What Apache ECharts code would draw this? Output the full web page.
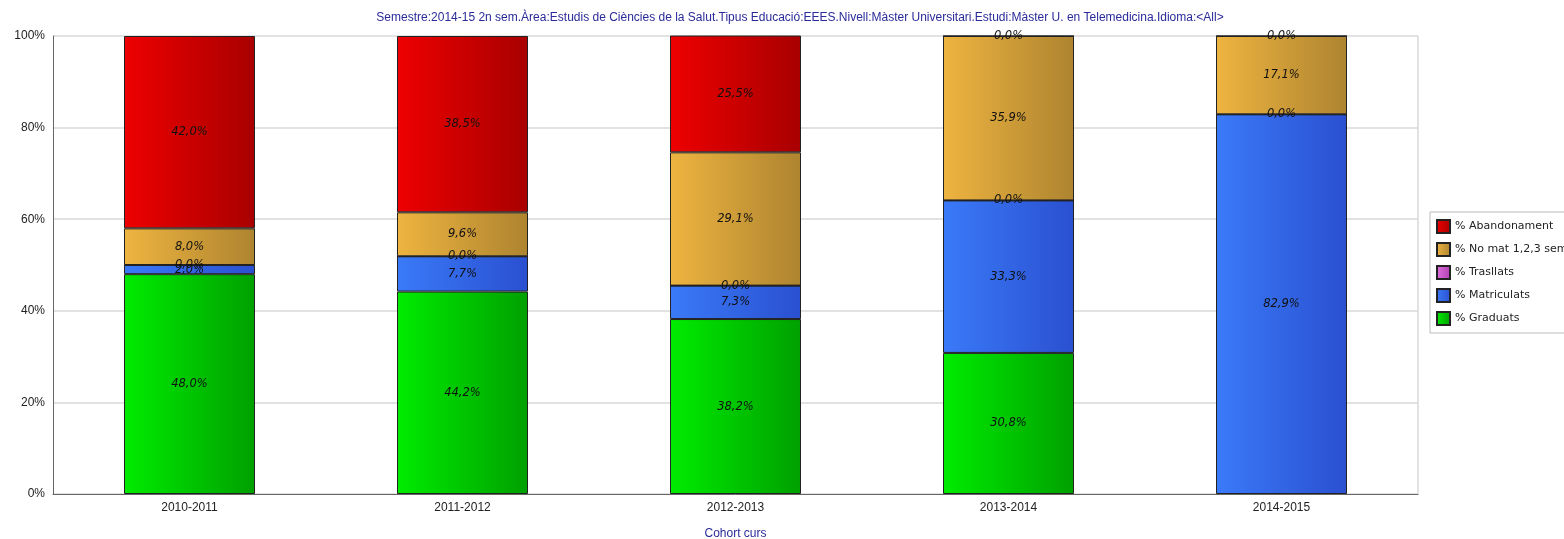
<!DOCTYPE html>
<html>
<head>
<meta charset="utf-8">
<script src="https://cdn.jsdelivr.net/npm/echarts@6/dist/echarts.min.js"></script>
<style>
    html, body { margin: 0; padding: 0; background: #fff; }
    #chart { width: 1564px; height: 539px; }
</style>
</head>
<body>
<div id="chart"></div>
<script>
    var categories = ['2010-2011', '2011-2012', '2012-2013', '2013-2014', '2014-2015'];
    var graduats = [48.0, 44.2, 38.2, 30.8, null];
    var matriculats = [2.0, 7.7, 7.3, 33.3, 82.9];
    var trasllats = [0.0, 0.0, 0.0, 0.0, 0.0];
    var noMat = [8.0, 9.6, 29.1, 35.9, 17.1];
    var abandonament = [42.0, 38.5, 25.5, 0.0, 0.0];
    var yTicks = ['0%', '20%', '40%', '60%', '80%', '100%'];

    var myChart = echarts.init(document.getElementById('chart'));

    function grad(a, b) {
        return new echarts.graphic.LinearGradient(0, 0, 1, 0, [
            {offset: 0, color: a},
            {offset: 1, color: b}
        ]);
    }

    function serie(name, data, c1, c2) {
        return {
            name: name,
            type: 'bar',
            stack: 'total',
            barWidth: 131,
            data: data,
            itemStyle: {
                color: grad(c1, c2),
                borderColor: '#222',
                borderWidth: 1
            },
            label: {
                show: true,
                position: 'inside',
                color: '#111',
                fontSize: 11.5,
                fontStyle: 'italic',
                fontFamily: 'DejaVu Sans',
                formatter: function (p) {
                    if (p.value == null) return '';
                    return p.value.toFixed(1).replace('.', ',') + '%';
                }
            }
        };
    }

    var option = {
        animation: false,
        title: {
            text: 'Semestre:2014-15 2n sem.Àrea:Estudis de Ciències de la Salut.Tipus Educació:EEES.Nivell:Màster Universitari.Estudi:Màster U. en Telemedicina.Idioma:<All>',
            left: 795,
            textAlign: 'center',
            top: 7,
            textStyle: {
                color: '#2a2a9a',
                fontSize: 12,
                fontWeight: 'normal',
                fontFamily: 'Liberation Sans'
            }
        },
        grid: {
            left: 53,
            right: 146,
            top: 36,
            bottom: 45,
            outerBoundsMode: 'none'
        },
        legend: {
            orient: 'vertical',
            left: 1430,
            top: 212,
            padding: [7, 100, 7, 6],
            itemGap: 8,
            itemWidth: 13,
            itemHeight: 13,
            icon: 'rect',
            borderColor: '#bbb',
            borderWidth: 1,
            backgroundColor: '#fff',
            textStyle: {
                color: '#222',
                fontSize: 11,
                fontFamily: 'DejaVu Sans'
            },
            data: ['% Abandonament', '% No mat 1,2,3 semestres', '% Trasllats', '% Matriculats', '% Graduats']
        },
        xAxis: {
            type: 'category',
            data: categories,
            name: 'Cohort curs',
            nameLocation: 'middle',
            nameGap: 34,
            nameTextStyle: {
                color: '#2a2a9a',
                fontSize: 12,
                fontFamily: 'Liberation Sans'
            },
            axisLine: {lineStyle: {color: '#666'}},
            axisTick: {show: false},
            axisLabel: {
                color: '#222',
                fontSize: 12,
                fontFamily: 'Liberation Sans',
                margin: 8
            }
        },
        yAxis: {
            type: 'value',
            min: 0,
            max: 100,
            interval: 20,
            axisLine: {show: true, lineStyle: {color: '#666'}},
            axisTick: {show: false},
            axisLabel: {
                color: '#222',
                fontSize: 12,
                fontFamily: 'Liberation Sans',
                margin: 8,
                formatter: function (v) { return yTicks[v / 20]; }
            },
            splitLine: {lineStyle: {color: '#d8d8d8', width: 1.5}}
        },
        series: [
            serie('% Graduats', graduats, '#00ec00', '#00a000'),
            serie('% Matriculats', matriculats, '#3a7af8', '#2a50d0'),
            serie('% Trasllats', trasllats, '#e070e0', '#b040b0'),
            serie('% No mat 1,2,3 semestres', noMat, '#eeb440', '#ae8430'),
            serie('% Abandonament', abandonament, '#ee0000', '#a80000')
        ],
        graphic: [{
            type: 'line',
            shape: {x1: 1418, y1: 36, x2: 1418, y2: 494},
            style: {stroke: '#d8d8d8', lineWidth: 1.5}
        }]
    };
    myChart.setOption(option, true);
</script>
</body>
</html>
